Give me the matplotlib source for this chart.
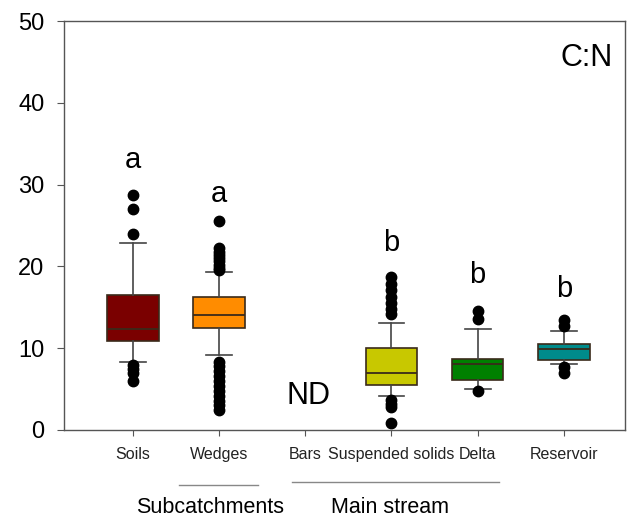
import matplotlib
matplotlib.use("Agg")
import matplotlib.pyplot as plt
from matplotlib.transforms import blended_transform_factory

plt.rcParams['font.family'] = ['Liberation Sans', 'DejaVu Sans']

# ---- data ----
categories = ["Soils", "Wedges", "Bars", "Suspended solids", "Delta", "Reservoir"]
box_names = ["Soils", "Wedges", "Suspended solids", "Delta", "Reservoir"]
box_pos = [1, 2, 4, 5, 6]
q1 = [10.85, 12.5, 5.5, 6.1, 8.6]
med = [12.3, 14.0, 7.0, 8.05, 9.9]
q3 = [16.5, 16.2, 10.0, 8.7, 10.5]
whislo = [8.3, 9.2, 4.1, 5.0, 8.1]
whishi = [22.9, 19.3, 13.1, 12.4, 12.1]
fliers_soils = [28.7, 27.0, 23.9, 8.0, 7.5, 7.0, 6.0]
fliers_wedges = [25.5, 22.2, 21.8, 21.4, 21.0, 20.6, 20.2, 19.8, 19.5,
                 8.3, 7.8, 7.2, 6.6, 6.0, 5.4, 4.8, 4.2, 3.6, 3.0, 2.4]
fliers_susp = [18.7, 17.9, 17.1, 16.3, 15.5, 14.8, 14.2, 3.7, 3.2, 2.8, 0.9]
fliers_delta = [14.6, 13.6, 4.8]
fliers_res = [13.4, 12.7, 7.7, 7.0]
colors = ["#7a0000", "#ff8c00", "#c8c800", "#008000", "#008b8b"]
letters = ["a", "a", "b", "b", "b"]
letter_y = [33.0, 28.9, 22.8, 19.0, 17.2]
yticks = [0, 10, 20, 30, 40, 50]

fliers = [fliers_soils, fliers_wedges, fliers_susp, fliers_delta, fliers_res]

fig = plt.figure(figsize=(6.27, 5.21), dpi=100)
ax = fig.add_axes([64/627, 91/521, (625-64)/627, (430-21)/521])

stats = []
for i in range(len(box_names)):
    stats.append(dict(label=box_names[i], q1=q1[i], med=med[i], q3=q3[i],
                      whislo=whislo[i], whishi=whishi[i], fliers=fliers[i]))

bp = ax.bxp(stats, positions=box_pos, widths=0.6, patch_artist=True,
            showfliers=True, capwidths=0.3,
            boxprops=dict(edgecolor="#3a2a1a", linewidth=1.2),
            medianprops=dict(color="#3a2a1a", linewidth=1.3),
            whiskerprops=dict(color="#444444", linewidth=1.2),
            capprops=dict(color="#444444", linewidth=1.2),
            flierprops=dict(marker="o", markerfacecolor="black",
                            markeredgecolor="black", markersize=7.5))
for patch, c in zip(bp["boxes"], colors):
    patch.set_facecolor(c)

ax.set_xlim(0.2, 6.71)
ax.set_ylim(0, 50)
ax.set_yticks(yticks)
ax.set_xticks(range(1, len(categories) + 1))
ax.set_xticklabels(categories, fontsize=11.5, color="#222222")
ax.tick_params(axis='y', labelsize=17, direction='out', length=5, color="#555555", pad=9)
ax.tick_params(axis='x', direction='out', length=4, color="#555555", pad=8)
for s in ax.spines.values():
    s.set_color("#555555")
    s.set_linewidth(1.0)

for x, l, y in zip(box_pos, letters, letter_y):
    ax.text(x, y, l, ha='center', va='center', fontsize=21)

ax.text(6.57, 45.5, "C:N", ha='right', va='center', fontsize=22)
ax.text(3.04, 4.1, "ND", ha='center', va='center', fontsize=22)

tr = blended_transform_factory(ax.transData, ax.transAxes)
ax.plot([1.54, 2.45], [-0.134, -0.134], transform=tr, color="#888888",
        linewidth=1.0, clip_on=False)
ax.plot([2.84, 5.25], [-0.128, -0.128], transform=tr, color="#888888",
        linewidth=1.0, clip_on=False)
ax.text(1.90, -0.19, "Subcatchments", transform=tr, ha='center', va='center',
        fontsize=15.5)
ax.text(3.98, -0.19, "Main stream", transform=tr, ha='center', va='center',
        fontsize=15.5)

fig.savefig("out.png", dpi=100)
